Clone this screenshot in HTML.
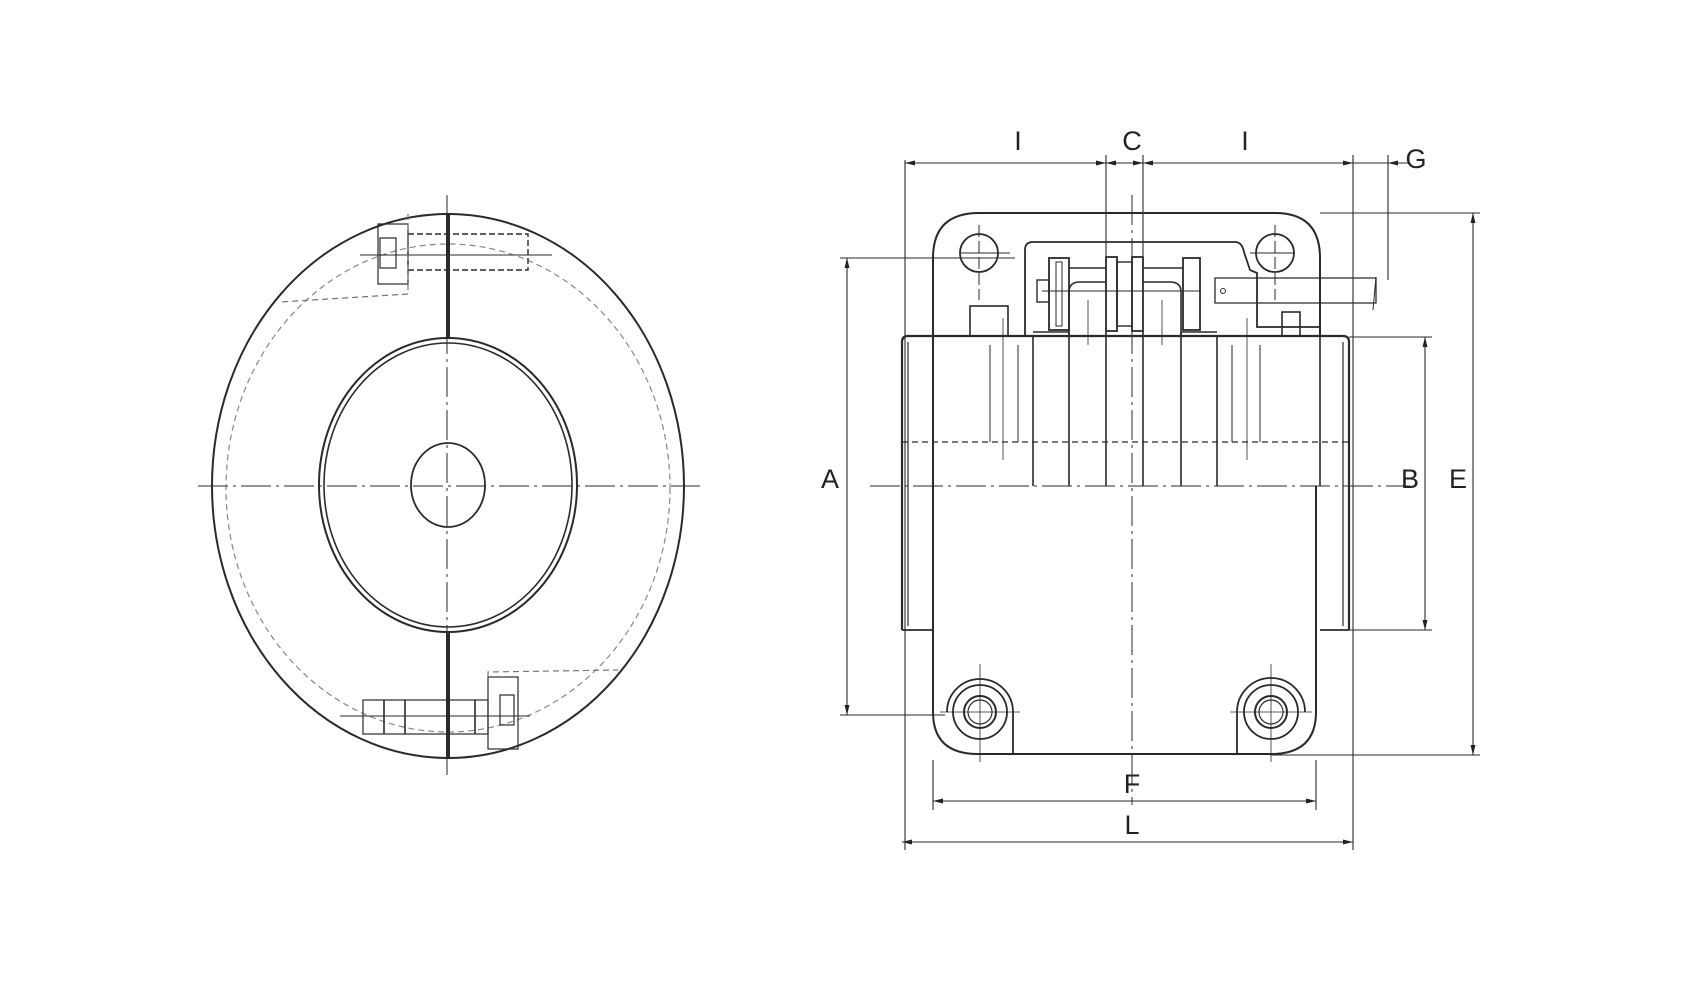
<!DOCTYPE html>
<html><head><meta charset="utf-8"><style>
html,body{margin:0;padding:0;background:#fff}
svg{display:block}
text{font-family:"Liberation Sans",sans-serif;font-size:27px;fill:#222}
</style></head><body>
<svg width="1696" height="988" viewBox="0 0 1696 988" xmlns="http://www.w3.org/2000/svg">
<g fill="none" stroke="#2a2a2a" stroke-width="1.6">
<!-- LEFT VIEW -->
<ellipse cx="448" cy="486" rx="236" ry="272" stroke-width="2"/>
<ellipse cx="448" cy="488" rx="222" ry="244" stroke="#888" stroke-dasharray="6,4" stroke-width="1.2"/>
<ellipse cx="448" cy="485" rx="129" ry="147" stroke-width="2"/>
<ellipse cx="448" cy="485" rx="124" ry="142"/>
<ellipse cx="448" cy="485" rx="37" ry="42" stroke-width="1.8"/>
<line x1="198" y1="486" x2="700" y2="486" stroke-width="1" stroke-dasharray="30,5,3,5"/>
<line x1="447" y1="195" x2="447" y2="775" stroke-width="1" stroke-dasharray="30,5,3,5"/>
<line x1="448" y1="214" x2="448" y2="338" stroke-width="4"/>
<line x1="448" y1="632" x2="448" y2="758" stroke-width="4"/>
<!-- top bolt -->
<rect x="378" y="224" width="30" height="60" stroke-width="1.2"/>
<rect x="380" y="238" width="16" height="30" stroke-width="1.2"/>
<rect x="408" y="234" width="120" height="36" stroke-dasharray="6,3" stroke-width="1.4"/>
<line x1="360" y1="255" x2="552" y2="255" stroke-width="1"/>
<polyline points="408,214 408,294 280,302" stroke="#777" stroke-dasharray="6,4" stroke-width="1.2"/>
<!-- bottom bolt -->
<rect x="488" y="677" width="30" height="72" stroke-width="1.2"/>
<rect x="500" y="695" width="14" height="30" stroke-width="1.2"/>
<rect x="363" y="700" width="125" height="34" stroke-width="1.2"/>
<line x1="384" y1="700" x2="384" y2="734"/><line x1="405" y1="700" x2="405" y2="734"/><line x1="475" y1="700" x2="475" y2="734"/>
<line x1="340" y1="716" x2="530" y2="716" stroke-width="1"/>
<polyline points="488,677 488,672 618,670" stroke="#777" stroke-dasharray="6,4" stroke-width="1.2"/>

<!-- RIGHT VIEW -->
<!-- housing outline -->
<path d="M933,486 L933,258 Q933,213 979,213 L1275,213 Q1320,213 1320,258 L1320,336" stroke-width="2"/>
<path d="M1025,336 L1025,250 Q1025,242 1033,242 L1235,242 Q1242,242 1244,252 L1250,270 L1257,273 L1257,327 L1320,327" stroke-width="1.8"/>
<circle cx="979" cy="253" r="19" stroke-width="1.8"/>
<circle cx="1275" cy="253" r="19" stroke-width="1.8"/>
<line x1="960" y1="253" x2="1010" y2="253" stroke-width="1"/>
<line x1="1250" y1="253" x2="1295" y2="253" stroke-width="1"/>
<line x1="979" y1="225" x2="979" y2="300" stroke-width="1" stroke-dasharray="12,4"/>
<line x1="1275" y1="225" x2="1275" y2="300" stroke-width="1" stroke-dasharray="12,4"/>
<!-- keys -->
<rect x="970" y="306" width="38" height="30"/>
<rect x="1282" y="312" width="18" height="24"/>
<!-- sprockets -->
<rect x="1049" y="258" width="20" height="72" stroke-width="1.8"/>
<rect x="1056" y="262" width="6" height="64" stroke-width="1"/>
<rect x="1106" y="257" width="11" height="74" stroke-width="1.8"/>
<rect x="1117" y="262" width="15" height="64" stroke-width="1.4"/>
<rect x="1132" y="257" width="11" height="74" stroke-width="1.8"/>
<rect x="1183" y="258" width="17" height="72" stroke-width="1.8"/>
<path d="M1069,336 L1069,292 Q1069,282 1080,282 L1106,282" />
<path d="M1143,282 L1170,282 Q1181,282 1181,292 L1181,336"/>
<line x1="1069" y1="268" x2="1106" y2="268"/><line x1="1143" y1="268" x2="1183" y2="268"/>
<rect x="1037" y="280" width="12" height="22" stroke-width="1.4"/>
<line x1="1042" y1="291" x2="1200" y2="291" stroke-width="1"/>
<!-- pin -->
<path d="M1215,278 L1376,278 L1376,303 L1215,303 Z" stroke-width="1.3"/>
<circle cx="1223" cy="291" r="2.5" stroke-width="1"/>
<line x1="1376" y1="277" x2="1373" y2="310" stroke-width="1"/>
<!-- hub body -->
<path d="M902,630 L902,342 Q902,336 908,336 L1343,336 Q1349,336 1349,342 L1349,630" stroke-width="2.2"/>
<line x1="908" y1="342" x2="908" y2="626" stroke-width="1.2"/>
<line x1="1343" y1="342" x2="1343" y2="626" stroke-width="1.2"/>
<line x1="902" y1="630" x2="933" y2="630" stroke-width="1.8"/>
<line x1="1320" y1="630" x2="1349" y2="630" stroke-width="1.8"/>
<line x1="1033" y1="336" x2="1033" y2="486"/>
<line x1="1033" y1="332" x2="1069" y2="332"/>
<line x1="1069" y1="332" x2="1069" y2="486"/>
<line x1="1106" y1="331" x2="1106" y2="486"/>
<line x1="1143" y1="331" x2="1143" y2="486"/>
<line x1="1181" y1="332" x2="1181" y2="486"/>
<line x1="1181" y1="332" x2="1217" y2="332"/>
<line x1="1217" y1="336" x2="1217" y2="486"/>
<line x1="990" y1="345" x2="990" y2="442" stroke-width="1"/><line x1="1018" y1="345" x2="1018" y2="442" stroke-width="1"/>
<line x1="1232" y1="345" x2="1232" y2="442" stroke-width="1"/><line x1="1260" y1="345" x2="1260" y2="442" stroke-width="1"/>
<line x1="1003" y1="318" x2="1003" y2="460" stroke-width="0.8"/>
<line x1="1247" y1="318" x2="1247" y2="460" stroke-width="0.8"/>
<line x1="1088" y1="300" x2="1088" y2="345" stroke-width="0.8"/>
<line x1="1162" y1="300" x2="1162" y2="345" stroke-width="0.8"/>
<line x1="902" y1="442" x2="1349" y2="442" stroke-width="1.2" stroke-dasharray="6,4"/>
<!-- lower housing -->
<path d="M933,486 L933,712 Q933,754 978,754 L1271,754 Q1316,754 1316,712 L1316,486" stroke-width="2"/>
<line x1="1320" y1="336" x2="1320" y2="486"/>
<path d="M947,712 A33,33 0 0 1 1013,712 L1013,754" stroke-width="1.8"/>
<path d="M1237,754 L1237,712 A34,34 0 0 1 1305,712" stroke-width="1.8"/>
<circle cx="980" cy="712" r="27" stroke-width="1.8"/>
<circle cx="980" cy="712" r="16" stroke-width="2"/>
<circle cx="980" cy="712" r="12" stroke-width="1.2"/>
<circle cx="1271" cy="712" r="27" stroke-width="1.8"/>
<circle cx="1271" cy="712" r="16" stroke-width="2"/>
<circle cx="1271" cy="712" r="12" stroke-width="1.2"/>
<line x1="980" y1="664" x2="980" y2="762" stroke-width="0.8"/><line x1="940" y1="712" x2="1020" y2="712" stroke-width="0.8"/>
<line x1="1271" y1="664" x2="1271" y2="762" stroke-width="0.8"/><line x1="1230" y1="712" x2="1312" y2="712" stroke-width="0.8"/>
<!-- centerlines -->
<line x1="870" y1="486" x2="1410" y2="486" stroke-width="1" stroke-dasharray="30,5,3,5"/>
<line x1="1132" y1="195" x2="1132" y2="805" stroke-width="1" stroke-dasharray="30,5,3,5"/>
<!-- dimension lines -->
<g stroke-width="1.1">
<line x1="905" y1="160" x2="905" y2="850"/>
<line x1="1353" y1="155" x2="1353" y2="850"/>
<line x1="1106" y1="155" x2="1106" y2="256"/><line x1="1143" y1="155" x2="1143" y2="256"/>
<line x1="1388" y1="155" x2="1388" y2="280"/>
<line x1="905" y1="163" x2="1410" y2="163"/>
<line x1="847" y1="258" x2="847" y2="715"/>
<line x1="840" y1="258" x2="1015" y2="258"/>
<line x1="840" y1="715" x2="945" y2="715"/>
<line x1="1425" y1="337" x2="1425" y2="630"/>
<line x1="1349" y1="337" x2="1432" y2="337"/><line x1="1349" y1="630" x2="1432" y2="630"/>
<line x1="1473" y1="213" x2="1473" y2="755"/>
<line x1="1320" y1="213" x2="1480" y2="213"/><line x1="1271" y1="755" x2="1480" y2="755"/>
<line x1="933" y1="760" x2="933" y2="810"/><line x1="1316" y1="760" x2="1316" y2="810"/>
<line x1="933" y1="801" x2="1316" y2="801"/>
<line x1="902" y1="842" x2="1353" y2="842"/>
</g>
</g>
<g fill="#222">
<path d="M905,163 l10,-2.5 v5z M1106,163 l-10,-2.5 v5z M1106,163 l10,-2.5 v5z M1143,163 l-10,-2.5 v5z M1143,163 l10,-2.5 v5z M1353,163 l-10,-2.5 v5z M1388,163 l10,-2.5 v5z"/>
<path d="M847,258 l-2.5,10 h5z M847,715 l-2.5,-10 h5z M1425,337 l-2.5,10 h5z M1425,630 l-2.5,-10 h5z M1473,213 l-2.5,10 h5z M1473,755 l-2.5,-10 h5z"/>
<path d="M933,801 l10,-2.5 v5z M1316,801 l-10,-2.5 v5z M902,842 l10,-2.5 v5z M1353,842 l-10,-2.5 v5z"/>
</g>
<text x="1018" y="150" text-anchor="middle">I</text>
<text x="1132" y="150" text-anchor="middle">C</text>
<text x="1245" y="150" text-anchor="middle">I</text>
<text x="1416" y="168" text-anchor="middle">G</text>
<text x="830" y="488" text-anchor="middle">A</text>
<text x="1410" y="488" text-anchor="middle">B</text>
<text x="1458" y="488" text-anchor="middle">E</text>
<text x="1132" y="793" text-anchor="middle">F</text>
<text x="1132" y="834" text-anchor="middle">L</text>
</svg>
</body></html>
